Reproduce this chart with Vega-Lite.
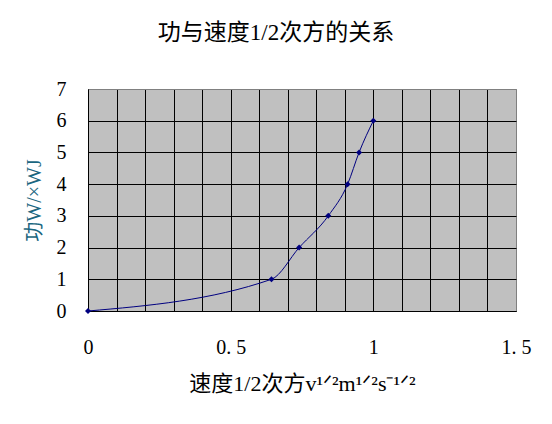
{
  "$schema": "https://vega.github.io/schema/vega-lite/v6.json",
  "width": 428,
  "height": 222,
  "autosize": {"type": "none"},
  "padding": {"left": 88, "top": 89, "right": 36, "bottom": 113},
  "background": "white",
  "title": {
    "text": "功与速度1/2次方的关系",
    "font": "Liberation Serif, Noto Sans CJK SC",
    "fontSize": 23,
    "fontWeight": "normal",
    "color": "black",
    "anchor": "middle",
    "dx": -26,
    "offset": 34
  },
  "config": {
    "view": {"fill": "#c0c0c0", "stroke": "#808080", "strokeWidth": 1},
    "font": "Liberation Serif, Noto Sans CJK SC"
  },
  "data": {
    "values": [
      {"v": 0, "W": 0},
      {"v": 0.643, "W": 1},
      {"v": 0.74, "W": 2},
      {"v": 0.842, "W": 3},
      {"v": 0.91, "W": 4},
      {"v": 0.95, "W": 5},
      {"v": 1.0, "W": 6}
    ]
  },
  "encoding": {
    "x": {
      "field": "v",
      "type": "quantitative",
      "scale": {"domain": [0, 1.5], "nice": false, "zero": false},
      "axis": {
        "values": [0, 0.1, 0.2, 0.3, 0.4, 0.5, 0.6, 0.7, 0.8, 0.9, 1, 1.1, 1.2, 1.3, 1.4, 1.5],
        "labelExpr": "round(datum.value*10)%5==0 ? replace(format(datum.value,'~g'),'.','. ') : ''",
        "grid": true,
        "gridColor": {"condition": {"test": "datum.value==1.5", "value": "#808080"}, "value": "black"},
        "gridOpacity": 1,
        "gridWidth": 1,
        "ticks": false,
        "domainColor": "black",
        "domainWidth": 1,
        "labelFont": "Liberation Serif, Noto Sans CJK SC",
        "labelFontSize": 20,
        "labelColor": "black",
        "labelPadding": 26,
        "labelFlush": false,
        "labelOverlap": false,
        "title": "速度1/2次方v¹ᐟ²m¹ᐟ²s⁻¹ᐟ²",
        "titleFont": "Liberation Serif, Noto Sans CJK SC",
        "titleFontSize": 22,
        "titleFontWeight": "normal",
        "titleColor": "black",
        "titlePadding": 16
      }
    },
    "y": {
      "field": "W",
      "type": "quantitative",
      "scale": {"domain": [0, 7], "nice": false},
      "axis": {
        "values": [0, 1, 2, 3, 4, 5, 6, 7],
        "grid": true,
        "gridColor": {"condition": {"test": "datum.value==7", "value": "#808080"}, "value": "black"},
        "gridOpacity": 1,
        "gridWidth": 1,
        "ticks": false,
        "domainColor": "black",
        "domainWidth": 1,
        "labelFont": "Liberation Serif, Noto Sans CJK SC",
        "labelFontSize": 20,
        "labelColor": "black",
        "labelPadding": 22,
        "title": "功W/×WJ",
        "titleFont": "Liberation Serif, Noto Sans CJK SC",
        "titleFontSize": 20,
        "titleFontWeight": "normal",
        "titleColor": "#1a6680",
        "titlePadding": 12
      }
    }
  },
  "layer": [
    {"mark": {"type": "line", "interpolate": "monotone", "color": "#000080", "strokeWidth": 1}},
    {"mark": {"type": "point", "filled": true, "shape": "diamond", "size": 36, "color": "#000080", "opacity": 1}}
  ]
}
